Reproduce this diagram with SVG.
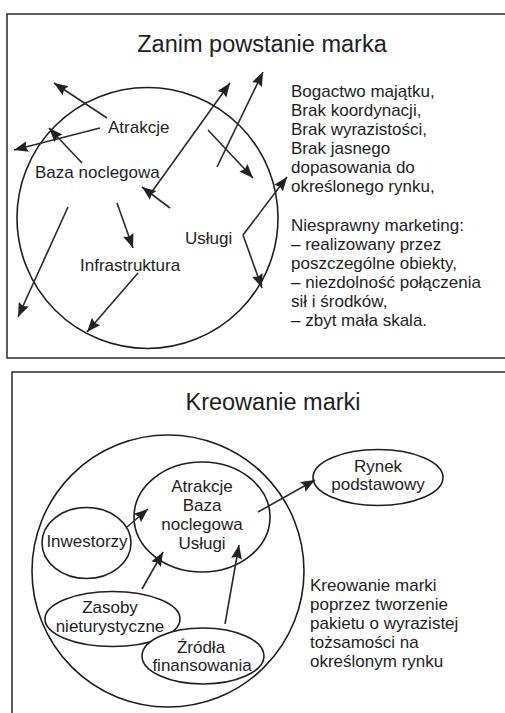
<svg xmlns="http://www.w3.org/2000/svg" width="505" height="713" viewBox="0 0 505 713">
<defs>
<marker id="ah" markerUnits="userSpaceOnUse" markerWidth="15" markerHeight="12" refX="14" refY="5.5" orient="auto">
<path d="M0,0 L14,5.5 L0,11 L2,5.5 Z" fill="#222"/>
</marker>
<style>
text{font-family:"Liberation Sans",Arial,sans-serif;fill:#1e1e1e}
.t{font-size:23.5px}
.n{font-size:17px}
.c{text-anchor:middle}
.sh{fill:none;stroke:#1e1e1e;stroke-width:1.6}
.wh{fill:#fff;stroke:#1e1e1e;stroke-width:1.6}
.fr{fill:none;stroke:#2a2a2a;stroke-width:1.5}
.ar{fill:none;stroke:#2a2a2a;stroke-width:1.6;marker-end:url(#ah)}
</style>
</defs>
<rect width="505" height="713" fill="#fff"/>

<!-- Panel frames -->
<path class="fr" d="M505,14 H7 V358 H505"/>
<path class="fr" d="M505,372 H12 V713"/>

<!-- Top panel -->
<text class="t c" x="262" y="52">Zanim powstanie marka</text>
<g id="circle-top"><circle class="sh" cx="147.5" cy="218" r="130.5"/></g>
<g id="atrakcje"><text class="n" x="108" y="133">Atrakcje</text></g>
<g id="baza"><text class="n" x="35" y="178">Baza noclegowa</text></g>
<g id="uslugi"><text class="n" x="185" y="244">Usługi</text></g>
<g id="infrastruktura"><text class="n" x="80" y="271">Infrastruktura</text></g>
<g id="problemy">
<text class="n" x="291">
<tspan x="291" y="97">Bogactwo majątku,</tspan>
<tspan x="291" y="116">Brak koordynacji,</tspan>
<tspan x="291" y="135">Brak wyrazistości,</tspan>
<tspan x="291" y="154">Brak jasnego</tspan>
<tspan x="291" y="173">dopasowania do</tspan>
<tspan x="291" y="192">określonego rynku,</tspan>
<tspan x="291" y="231">Niesprawny marketing:</tspan>
<tspan x="291" y="250">– realizowany przez</tspan>
<tspan x="291" y="269">poszczególne obiekty,</tspan>
<tspan x="291" y="288">– niezdolność połączenia</tspan>
<tspan x="291" y="307">sił i środków,</tspan>
<tspan x="291" y="326">– zbyt mała skala.</tspan>
</text>
</g>
<g id="connectors-top">
<line class="ar" x1="107" y1="118" x2="54" y2="83"/>
<line class="ar" x1="100" y1="128" x2="14" y2="150"/>
<line class="ar" x1="82" y1="163" x2="49" y2="128"/>
<line class="ar" x1="68" y1="207" x2="18" y2="317"/>
<line class="ar" x1="117" y1="203" x2="133" y2="248"/>
<line class="ar" x1="138" y1="273" x2="87" y2="332"/>
<line class="ar" x1="170" y1="208" x2="142" y2="187"/>
<line class="ar" x1="151" y1="193" x2="230" y2="83"/>
<line class="ar" x1="217" y1="167" x2="263" y2="72"/>
<line class="ar" x1="208" y1="130" x2="253" y2="178"/>
<line class="ar" x1="243" y1="235" x2="287" y2="177"/>
<line class="ar" x1="243" y1="235" x2="262" y2="288"/>
</g>

<!-- Bottom panel -->
<text class="t c" x="273" y="410">Kreowanie marki</text>
<g id="atrakcje-pakiet">
<ellipse class="sh" cx="202" cy="517" rx="68" ry="55"/>
<text class="n c" x="202"><tspan x="202" y="492">Atrakcje</tspan><tspan x="202" y="511">Baza</tspan><tspan x="202" y="530">noclegowa</tspan><tspan x="202" y="549">Usługi</tspan></text>
</g>
<g id="inwestorzy">
<ellipse class="sh" cx="86.5" cy="543" rx="44.5" ry="35.5"/>
<text class="n c" x="87" y="547">Inwestorzy</text>
</g>
<g id="rynek">
<ellipse class="sh" cx="378" cy="477.5" rx="65" ry="28"/>
<text class="n c" x="378"><tspan x="378" y="472">Rynek</tspan><tspan x="378" y="490">podstawowy</tspan></text>
</g>
<g id="zasoby">
<ellipse class="sh" cx="112.5" cy="619" rx="67.5" ry="27.5"/>
<text class="n c" x="110"><tspan x="110" y="613">Zasoby</tspan><tspan x="110" y="632">nieturystyczne</tspan></text>
</g>
<g id="zrodla">
<ellipse class="wh" cx="203" cy="656" rx="61" ry="28"/>
<text class="n c" x="202"><tspan x="201" y="653">Źródła</tspan><tspan x="202" y="671">finansowania</tspan></text>
</g>
<g id="circle-bottom"><circle class="sh" cx="168" cy="571" r="136"/></g>
<g id="opis">
<text class="n" x="310">
<tspan x="310" y="591">Kreowanie marki</tspan>
<tspan x="310" y="610">poprzez tworzenie</tspan>
<tspan x="310" y="629">pakietu o wyrazistej</tspan>
<tspan x="310" y="648">tożsamości na</tspan>
<tspan x="310" y="667">określonym rynku</tspan>
</text>
</g>
<g id="connectors-bottom">
<line class="ar" x1="127" y1="527" x2="148" y2="509"/>
<line class="ar" x1="142" y1="589" x2="163" y2="552"/>
<line class="ar" x1="225" y1="624" x2="239" y2="545"/>
<line class="ar" x1="258" y1="512" x2="315" y2="480"/>
</g>
</svg>
